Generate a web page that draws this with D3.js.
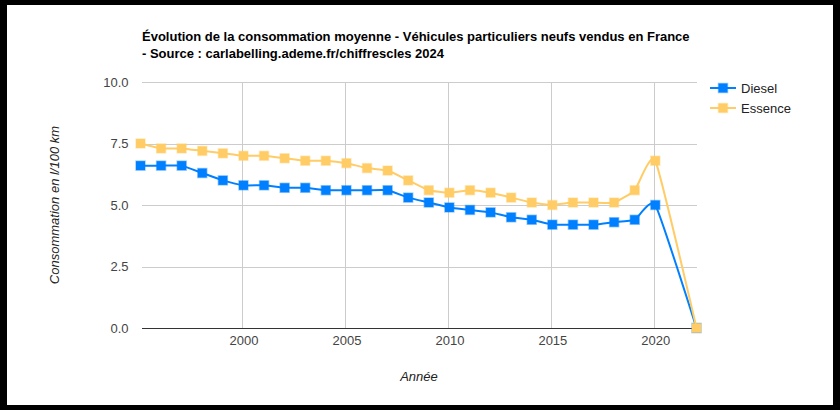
<!DOCTYPE html>
<html>
<head>
<meta charset="utf-8">
<script src="https://cdn.jsdelivr.net/npm/d3@7"></script>
<style>
  html, body { margin: 0; padding: 0; background: #000; }
  svg { display: block; font-family: "Liberation Sans", Arial, sans-serif; }
</style>
</head>
<body>
<svg id="chart" width="840" height="410"></svg>
<script>
const years   = [1995,1996,1997,1998,1999,2000,2001,2002,2003,2004,2005,2006,2007,2008,2009,2010,2011,2012,2013,2014,2015,2016,2017,2018,2019,2020,2022];
const diesel  = [6.6,6.6,6.6,6.3,6.0,5.8,5.8,5.7,5.7,5.6,5.6,5.6,5.6,5.3,5.1,4.9,4.8,4.7,4.5,4.4,4.2,4.2,4.2,4.3,4.4,5.0,0];
const essence = [7.5,7.3,7.3,7.2,7.1,7.0,7.0,6.9,6.8,6.8,6.7,6.5,6.4,6.0,5.6,5.5,5.6,5.5,5.3,5.1,5.0,5.1,5.1,5.1,5.6,6.8,0];
const seriesNames = ["Diesel", "Essence"];
const seriesColors = ["#0080ff", "#ffcc66"];
const yTicks = [0, 2.5, 5, 7.5, 10];
const xTicks = [2000, 2005, 2010, 2015, 2020];
const titleLines = ["Évolution de la consommation moyenne - Véhicules particuliers neufs vendus en France", "- Source : carlabelling.ademe.fr/chiffrescles 2024"];
const xTitle = "Année";
const yTitle = "Consommation en l/100 km";

const svg = d3.select("#chart");
svg.append("rect").attr("x", 7).attr("y", 5).attr("width", 826).attr("height", 400).attr("fill", "#fff");

const L = 140.5, R = 696.5, T = 82, B = 328;
const x = d3.scaleLinear().domain([1995, 2022]).range([L, R]);
const y = d3.scaleLinear().domain([0, 10]).range([B, T]);

// title
const title = svg.append("text").attr("x", 142).attr("y", 41)
  .attr("font-size", 13).attr("font-weight", "bold").attr("fill", "#000");
titleLines.forEach((t, i) => title.append("tspan").attr("x", 142).attr("dy", i === 0 ? 0 : 17).text(t));

// grid
const grid = svg.append("g");
grid.selectAll("line.h").data(yTicks.filter(d => d !== 0)).enter().append("line")
  .attr("x1", 142).attr("x2", 697).attr("y1", d => Math.round(y(d)) + 0.5).attr("y2", d => Math.round(y(d)) + 0.5)
  .attr("stroke", "#cccccc").attr("stroke-width", 1);
grid.selectAll("line.v").data(xTicks).enter().append("line")
  .attr("x1", d => Math.round(x(d)) - 0.5).attr("x2", d => Math.round(x(d)) - 0.5).attr("y1", T).attr("y2", B)
  .attr("stroke", "#cccccc").attr("stroke-width", 1);

// axes labels via d3 axes
const yAxis = d3.axisLeft(y).tickValues(yTicks).tickFormat(d3.format(".1f")).tickSize(0).tickPadding(12);
const gy = svg.append("g").attr("transform", `translate(${L},0)`).call(yAxis);
gy.select(".domain").remove();
gy.selectAll("text").attr("font-size", 13).attr("fill", "#444").attr("font-family", "Liberation Sans, Arial, sans-serif");

const xAxis = d3.axisBottom(x).tickValues(xTicks).tickFormat(d3.format("d")).tickSize(0).tickPadding(8);
const gx = svg.append("g").attr("transform", `translate(0,${B})`).call(xAxis);
gx.select(".domain").remove();
gx.selectAll("text").attr("font-size", 13).attr("fill", "#444").attr("font-family", "Liberation Sans, Arial, sans-serif");

// baseline
svg.append("line").attr("x1", 142).attr("x2", 697).attr("y1", Math.round(y(0)) + 0.5).attr("y2", Math.round(y(0)) + 0.5)
  .attr("stroke", "#333").attr("stroke-width", 1);

// axis titles
svg.append("text").attr("x", 419).attr("y", 381).attr("text-anchor", "middle")
  .attr("font-size", 13).attr("font-style", "italic").attr("fill", "#222").text(xTitle);
svg.append("text").attr("transform", `translate(59,${(T + B) / 2}) rotate(-90)`).attr("text-anchor", "middle")
  .attr("font-size", 13).attr("font-style", "italic").attr("fill", "#222").text(yTitle);

// series
const data = [diesel, essence];
const line = d3.line().x((d, i) => x(years[i])).y(d => y(d)).curve(d3.curveCardinal.tension(0.55));
data.forEach((vals, s) => {
  const g = svg.append("g");
  g.append("path").datum(vals).attr("d", line).attr("fill", "none")
    .attr("stroke", seriesColors[s]).attr("stroke-width", 2);
  g.selectAll("rect").data(vals).enter().append("rect")
    .attr("x", (d, i) => x(years[i]) - 4.5).attr("y", d => y(d) - 4.5)
    .attr("width", 9).attr("height", 9)
    .attr("fill", seriesColors[s])
    .attr("stroke", seriesColors[s]).attr("stroke-opacity", 0.4).attr("stroke-width", 1.5);
});

// legend
seriesNames.forEach((n, i) => {
  const ly = 88 + i * 20;
  const g = svg.append("g");
  g.append("line").attr("x1", 710).attr("x2", 736).attr("y1", ly).attr("y2", ly)
    .attr("stroke", seriesColors[i]).attr("stroke-width", 2);
  g.append("rect").attr("x", 718.5).attr("y", ly - 4.5).attr("width", 9).attr("height", 9)
    .attr("fill", seriesColors[i]).attr("stroke", seriesColors[i]).attr("stroke-opacity", 0.4).attr("stroke-width", 1.5);
  g.append("text").attr("x", 741).attr("y", ly + 4.5).attr("font-size", 13).attr("fill", "#222").text(n);
});
</script>
</body>
</html>
